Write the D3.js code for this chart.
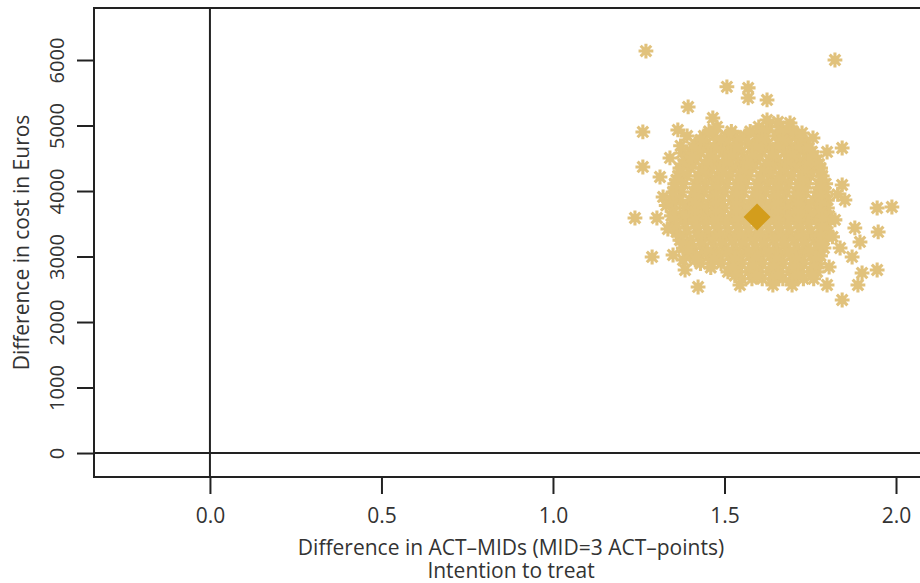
<!DOCTYPE html>
<html>
<head>
<meta charset="utf-8">
<script src="https://cdn.jsdelivr.net/npm/d3@7"></script>
<style>
  body { margin: 0; background: #fff; }
  svg text { font-family: 'Open Sans', sans-serif; }
</style>
</head>
<body>
<div id="chart"></div>
<script>
// axis ticks
const xTicks = [0, 0.5, 1.0, 1.5, 2.0];
const yTicks = [0, 1000, 2000, 3000, 4000, 5000, 6000];

// bootstrap replicates, dense core: each row is [cost difference, [effect differences]]
const coreRows = [
  [4980, [1.478, 1.60, 1.63, 1.66, 1.69]],
  [4840, [1.44, 1.47, 1.505, 1.53, 1.56, 1.595, 1.62, 1.65, 1.685, 1.71]],
  [4720, [1.415, 1.445, 1.48, 1.505, 1.535, 1.57, 1.595, 1.625, 1.66, 1.685, 1.715, 1.74]],
  [4600, [1.40, 1.43, 1.46, 1.495, 1.52, 1.55, 1.585, 1.61, 1.64, 1.675, 1.70, 1.73, 1.755]],
  [4470, [1.385, 1.415, 1.45, 1.475, 1.505, 1.54, 1.565, 1.595, 1.63, 1.655, 1.685, 1.72, 1.745, 1.77]],
  [4350, [1.37, 1.40, 1.435, 1.46, 1.49, 1.525, 1.55, 1.58, 1.615, 1.64, 1.67, 1.705, 1.73, 1.76, 1.78]],
  [4230, [1.365, 1.39, 1.425, 1.455, 1.48, 1.515, 1.545, 1.57, 1.605, 1.635, 1.66, 1.695, 1.725, 1.75, 1.785]],
  [4110, [1.355, 1.38, 1.415, 1.445, 1.47, 1.505, 1.535, 1.56, 1.595, 1.625, 1.65, 1.685, 1.715, 1.74, 1.775, 1.795]],
  [3985, [1.35, 1.375, 1.41, 1.44, 1.465, 1.50, 1.53, 1.555, 1.59, 1.62, 1.645, 1.68, 1.71, 1.735, 1.77, 1.795]],
  [3860, [1.345, 1.37, 1.40, 1.43, 1.46, 1.49, 1.52, 1.55, 1.58, 1.61, 1.64, 1.67, 1.70, 1.73, 1.76, 1.79, 1.80]],
  [3740, [1.35, 1.385, 1.41, 1.445, 1.475, 1.50, 1.535, 1.565, 1.595, 1.625, 1.655, 1.685, 1.715, 1.745, 1.775, 1.80]],
  [3620, [1.345, 1.37, 1.40, 1.43, 1.46, 1.49, 1.52, 1.55, 1.58, 1.61, 1.64, 1.67, 1.70, 1.73, 1.76, 1.79, 1.805]],
  [3500, [1.35, 1.385, 1.415, 1.445, 1.475, 1.505, 1.535, 1.565, 1.595, 1.625, 1.655, 1.685, 1.715, 1.745, 1.775, 1.80]],
  [3375, [1.36, 1.39, 1.42, 1.45, 1.48, 1.51, 1.54, 1.57, 1.60, 1.63, 1.66, 1.69, 1.72, 1.75, 1.78, 1.80]],
  [3250, [1.37, 1.40, 1.435, 1.465, 1.495, 1.525, 1.555, 1.585, 1.615, 1.645, 1.675, 1.705, 1.735, 1.765, 1.79]],
  [3130, [1.38, 1.41, 1.44, 1.47, 1.50, 1.53, 1.56, 1.59, 1.62, 1.65, 1.68, 1.71, 1.74, 1.77, 1.79]],
  [3010, [1.40, 1.43, 1.455, 1.485, 1.515, 1.545, 1.575, 1.605, 1.635, 1.665, 1.695, 1.725, 1.755, 1.78]],
  [2890, [1.43, 1.46, 1.49, 1.52, 1.55, 1.58, 1.61, 1.64, 1.67, 1.70, 1.73, 1.76, 1.775]],
  [2765, [1.51, 1.54, 1.57, 1.60, 1.63, 1.66, 1.69, 1.72, 1.75, 1.77]],
  [2660, [1.55, 1.58, 1.61, 1.64, 1.67, 1.70, 1.73, 1.76]]
];

// core rows in between the ones above, so the cloud reads as one mass
const coreRowsMid = [
  [4910, [1.455, 1.52, 1.575, 1.61, 1.67, 1.70]],
  [4780, [1.43, 1.49, 1.545, 1.61, 1.67, 1.725]],
  [4660, [1.41, 1.47, 1.535, 1.595, 1.655, 1.715, 1.745]],
  [4535, [1.395, 1.46, 1.52, 1.58, 1.64, 1.70, 1.76]],
  [4410, [1.38, 1.445, 1.505, 1.565, 1.625, 1.685, 1.745, 1.775]],
  [4290, [1.37, 1.435, 1.495, 1.555, 1.615, 1.675, 1.735, 1.78]],
  [4170, [1.36, 1.425, 1.485, 1.545, 1.605, 1.665, 1.725, 1.785]],
  [4045, [1.355, 1.42, 1.48, 1.54, 1.60, 1.66, 1.72, 1.78]],
  [3920, [1.35, 1.415, 1.475, 1.535, 1.595, 1.655, 1.715, 1.78]],
  [3800, [1.35, 1.415, 1.475, 1.535, 1.595, 1.655, 1.715, 1.785]],
  [3680, [1.35, 1.415, 1.475, 1.535, 1.595, 1.655, 1.715, 1.78]],
  [3560, [1.355, 1.415, 1.475, 1.535, 1.595, 1.655, 1.715, 1.785]],
  [3440, [1.36, 1.42, 1.48, 1.54, 1.60, 1.66, 1.72, 1.785]],
  [3310, [1.37, 1.425, 1.485, 1.545, 1.605, 1.665, 1.725, 1.78]],
  [3190, [1.38, 1.435, 1.495, 1.555, 1.615, 1.675, 1.735, 1.78]],
  [3070, [1.395, 1.45, 1.51, 1.57, 1.63, 1.69, 1.75]],
  [2950, [1.415, 1.47, 1.53, 1.59, 1.65, 1.71, 1.765]],
  [2830, [1.46, 1.525, 1.585, 1.645, 1.705, 1.76]],
  [2710, [1.53, 1.595, 1.655, 1.715, 1.755]]
];

// scattered replicates around the core: [effect difference, cost difference]
const outerPoints = [
  [1.271, 6137], [1.822, 6000], [1.507, 5591], [1.569, 5575], [1.569, 5421],
  [1.624, 5390], [1.394, 5283], [1.466, 5115], [1.262, 4902], [1.364, 4932],
  [1.391, 4840], [1.341, 4505], [1.376, 4581], [1.405, 4520], [1.262, 4367],
  [1.312, 4214], [1.321, 3909], [1.239, 3588], [1.303, 3588], [1.289, 2993],
  [1.350, 3023], [1.379, 2947], [1.385, 2794], [1.423, 2535], [1.545, 2565],
  [1.624, 5085], [1.656, 5054], [1.691, 5039], [1.726, 4886], [1.758, 4810],
  [1.843, 4657], [1.799, 4596], [1.843, 4092], [1.851, 3863], [1.945, 3741],
  [1.988, 3756], [1.948, 3375], [1.880, 3436], [1.895, 3222], [1.837, 3130],
  [1.872, 2993], [1.901, 2749], [1.945, 2794], [1.889, 2565], [1.843, 2336],
  [1.799, 2565], [1.697, 2565], [1.641, 2565], [1.822, 3560], [1.815, 3300],
  [1.83, 3950], [1.805, 2840], [1.335, 3420], [1.33, 3780], [1.372, 4690]
];

// point estimate
const pointEstimate = [1.595, 3603];

const xTitle = ['Difference in ACT\u2013MIDs (MID=3 ACT\u2013points)', 'Intention to treat'];
const yTitle = 'Difference in cost in Euros';

const width = 920, height = 583;
const mLeft = 94, mRight = 931, mTop = 8, mBottom = 477;
const axisColor = '#222222';
const textColor = '#333333';
const starColor = '#E1C27C';
const diamondColor = '#D39D1C';
const fontSize = 21;

const x = d3.scaleLinear().domain([-0.338, 2.102]).range([mLeft, mRight]);
const y = d3.scaleLinear().domain([-366, 6794]).range([mBottom, mTop]);

const svg = d3.select('#chart').append('svg')
  .attr('width', width)
  .attr('height', height);

// reference lines at zero
svg.append('line')
  .attr('x1', x(0)).attr('x2', x(0))
  .attr('y1', mTop).attr('y2', mBottom)
  .attr('stroke', axisColor).attr('stroke-width', 2);
svg.append('line')
  .attr('x1', mLeft).attr('x2', mRight)
  .attr('y1', y(0)).attr('y2', y(0))
  .attr('stroke', axisColor).attr('stroke-width', 2);

// points
const points = [];
coreRows.concat(coreRowsMid)
  .forEach(([cost, effects]) => effects.forEach(e => points.push([e, cost])));
outerPoints.forEach(p => points.push(p));

// asterisk: a plus and a cross on top of each other
const r1 = 7.4, r2 = 5.3;
const starPath = `M${-r1},0L${r1},0M0,${-r1}L0,${r1}` +
  `M${-r2},${-r2}L${r2},${r2}M${-r2},${r2}L${r2},${-r2}`;

svg.append('g')
  .selectAll('path.star')
  .data(points)
  .join('path')
  .classed('star', true)
  .attr('transform', d => `translate(${x(d[0])},${y(d[1])})`)
  .attr('d', starPath)
  .attr('fill', 'none')
  .attr('stroke', starColor)
  .attr('stroke-width', 3.1);

const dr = 13.5;
svg.append('path')
  .attr('transform', `translate(${x(pointEstimate[0])},${y(pointEstimate[1])})`)
  .attr('d', `M0,${-dr}L${dr},0L0,${dr}L${-dr},0Z`)
  .attr('fill', diamondColor);

// plot frame
svg.append('rect')
  .attr('x', mLeft).attr('y', mTop)
  .attr('width', mRight - mLeft).attr('height', mBottom - mTop)
  .attr('fill', 'none')
  .attr('stroke', axisColor).attr('stroke-width', 2);

// x axis
const xAxis = svg.append('g')
  .attr('transform', `translate(0,${mBottom})`)
  .call(d3.axisBottom(x).tickValues(xTicks).tickFormat(d3.format('.1f')).tickSize(17).tickSizeOuter(0));
xAxis.select('.domain').remove();
xAxis.selectAll('.tick line').attr('stroke', axisColor).attr('stroke-width', 2);
xAxis.selectAll('.tick text')
  .attr('y', 46).attr('dy', 0)
  .attr('fill', textColor)
  .style('font-size', fontSize + 'px');

// y axis
const yAxis = svg.append('g')
  .attr('transform', `translate(${mLeft},0)`)
  .call(d3.axisLeft(y).tickValues(yTicks).tickFormat(d3.format('d')).tickSize(17).tickSizeOuter(0));
yAxis.select('.domain').remove();
yAxis.selectAll('.tick line').attr('stroke', axisColor).attr('stroke-width', 2);
yAxis.selectAll('.tick text')
  .attr('transform', 'rotate(-90)')
  .attr('x', 0).attr('y', -30).attr('dy', 0)
  .attr('text-anchor', 'middle')
  .attr('fill', textColor)
  .style('font-size', (fontSize - 1) + 'px');

// titles
svg.append('text')
  .attr('x', 511).attr('y', 555)
  .attr('text-anchor', 'middle')
  .attr('fill', textColor)
  .style('font-size', fontSize + 'px')
  .text(xTitle[0]);
svg.append('text')
  .attr('x', 511).attr('y', 578)
  .attr('text-anchor', 'middle')
  .attr('fill', textColor)
  .style('font-size', fontSize + 'px')
  .text(xTitle[1]);
svg.append('text')
  .attr('transform', `translate(29,${(mTop + mBottom) / 2}) rotate(-90)`)
  .attr('text-anchor', 'middle')
  .attr('fill', textColor)
  .style('font-size', fontSize + 'px')
  .text(yTitle);
</script>
</body>
</html>
